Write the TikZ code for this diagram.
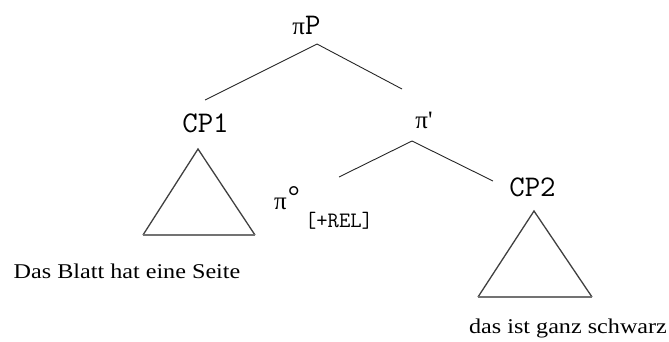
\documentclass[tikz,border=0pt]{standalone}
\usepackage{fontspec}
\setmainfont{Liberation Serif}
\newfontfamily\greekfont{Liberation Serif}
\newfontfamily\sentfont[FakeStretch=1.15]{Liberation Serif}
\newcommand\pisym{{\greekfont\fontsize{25}{25}\selectfont π}}
\begin{document}
\begin{tikzpicture}[x=1pt,y=-1pt,
  cat/.style={inner sep=0pt, font=\ttfamily\fontsize{30}{30}\selectfont},
  feat/.style={inner sep=0pt, font=\ttfamily\fontsize{22}{22}\selectfont},
  sent/.style={inner sep=0pt, anchor=base, font=\sentfont\fontsize{21}{21}\selectfont},
  branch/.style={line width=0.9pt, black!85},
  roof/.style={line width=1.3pt, black!75, line join=miter}]
  \useasboundingbox (0,0) rectangle (669,341);

  % category labels
  \node[cat] (piP) at (306.5,25.5) {\pisym P};
  \node[cat] (cp1) at (205.5,123) {CP1};
  \node[cat] (pibar) at (424,120) {\pisym{\greekfont\fontsize{25}{25}\selectfont '}};
  \node[cat] (cp2) at (532.5,187) {CP2};
  \node[cat] (pihead) at (287,198) {\pisym\kern1pt{\greekfont\fontsize{30}{30}\selectfont\raisebox{3pt}{°}}};
  \node[feat] (rel) at (339,221) {[+REL]};

  % branch end points
  \coordinate (apexA) at (317,44);
  \coordinate (leftA) at (205,100);
  \coordinate (rightA) at (402,89);
  \coordinate (apexB) at (412,141);
  \coordinate (leftB) at (339,177);
  \coordinate (rightB) at (493,181);

  \draw[branch] (leftA) -- (apexA) -- (rightA);
  \draw[branch] (leftB) -- (apexB) -- (rightB);

  % triangles for unanalysed constituents
  \coordinate (topT1) at (198,149);
  \coordinate (blT1) at (143,235);
  \coordinate (brT1) at (255,235);
  \coordinate (topT2) at (534,211);
  \coordinate (blT2) at (478,297);
  \coordinate (brT2) at (592,297);
  \draw[roof] (blT1) -- (topT1) -- (brT1);
  \draw[line width=2pt, black!55] (blT1) -- (brT1);
  \draw[roof] (blT2) -- (topT2) -- (brT2);
  \draw[line width=2pt, black!55] (blT2) -- (brT2);

  % terminal strings
  \node[sent] (s1) at (127,278) {Das Blatt hat eine Seite};
  \node[sent] (s2) at (568,333) {das ist ganz schwarz};
\end{tikzpicture}
\end{document}
